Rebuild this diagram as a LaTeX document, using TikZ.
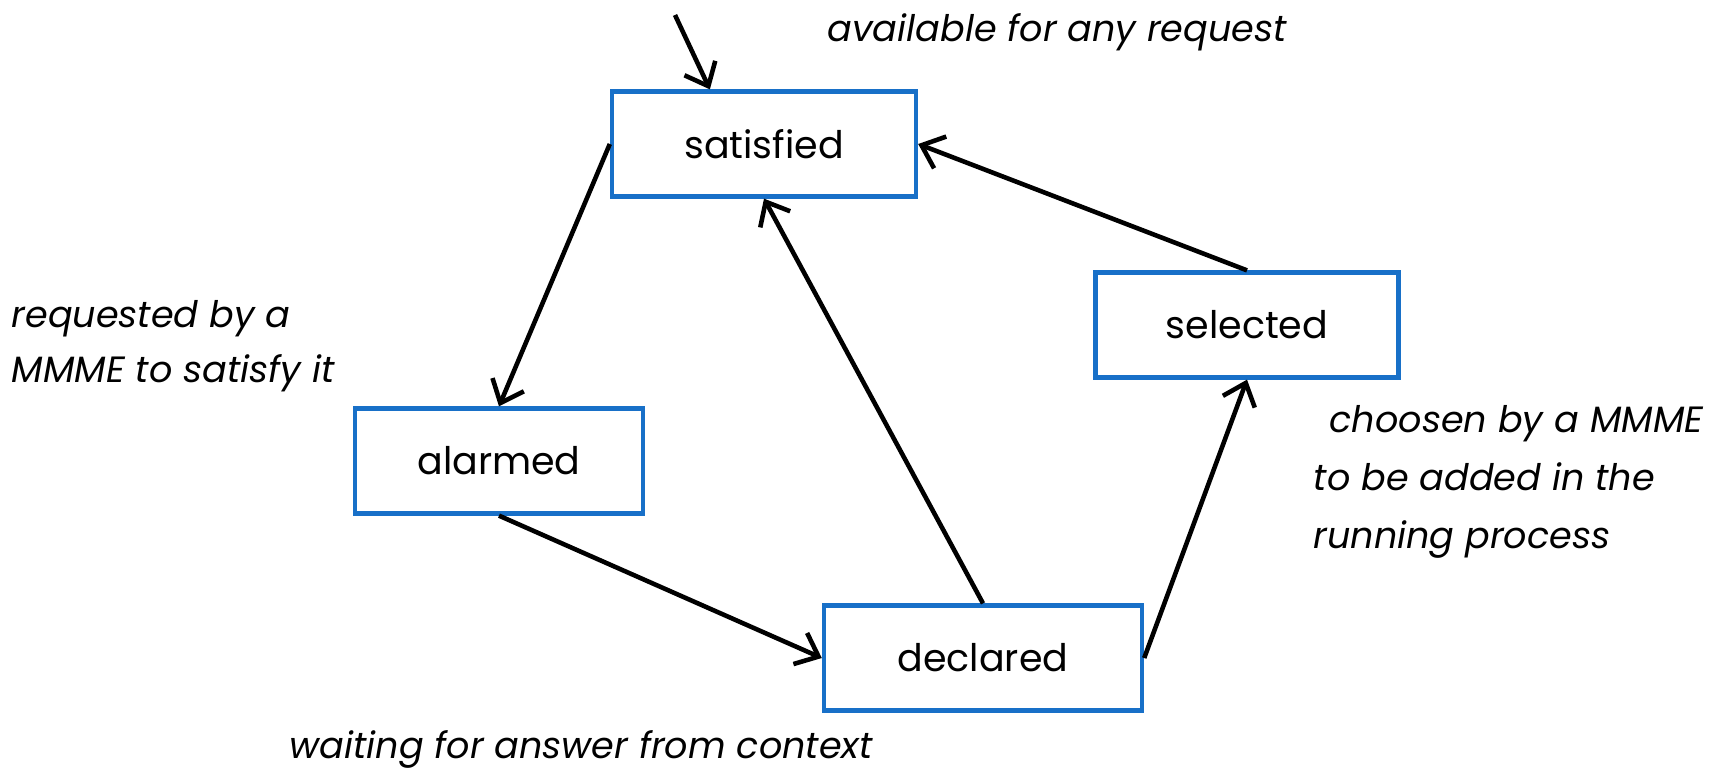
\documentclass[tikz,border=0pt]{standalone}
\usepackage{fontspec}
\setmainfont{Poppins}
\usetikzlibrary{arrows.meta}
\definecolor{boxblue}{RGB}{24,112,200}
\tikzset{
  statebox/.style={draw=boxblue, line width=1.2pt, minimum height=1.05cm,
    font=\fontsize{10.8}{12}\selectfont},
  trans/.style={line width=1.3pt, -{Straight Barb[length=2mm,width=3.4mm]}},
  remark/.style={anchor=west, align=left, inner sep=0pt,
    font=\fontsize{10.4}{15.8}\selectfont\itshape}
}
\begin{document}
\begin{tikzpicture}[x=0.01cm,y=-0.01cm]
  \useasboundingbox (0,0) rectangle (1730,772);

  % states
  \node[statebox, minimum width=3.04cm] (satisfied) at (764,144) {satisfied};
  \node[statebox, minimum width=2.88cm] (alarmed) at (499,461) {alarmed};
  \node[statebox, minimum width=3.18cm] (declared) at (983,658) {declared};
  \node[statebox, minimum width=3.03cm] (selected) at (1247,325) {selected};

  % remarks
  \node[remark] (avail) at (827,32) {available for any request};
  \node[remark] (req) at (11,346) {requested by a\\MMME to satisfy it};
  \node[remark, font=\fontsize{10.4}{16.6}\selectfont\itshape] (choose) at (1313,482)
    {\hspace{0.8ex}choosen by a MMME\\to be added in the\\running process};
  \node[remark] (wait) at (289,749) {waiting for answer from context};

  % transitions
  \coordinate (init) at (675,15);
  \draw[trans] (init) -- ([xshift=1cm]satisfied.north west);
  \draw[trans] (satisfied.west) -- (alarmed.north);
  \draw[trans] (alarmed.south) -- (declared.west);
  \draw[trans] (declared.north) -- (satisfied.south);
  \draw[trans] (declared.east) -- (selected.south);
  \draw[trans] (selected.north) -- (satisfied.east);
\end{tikzpicture}
\end{document}
